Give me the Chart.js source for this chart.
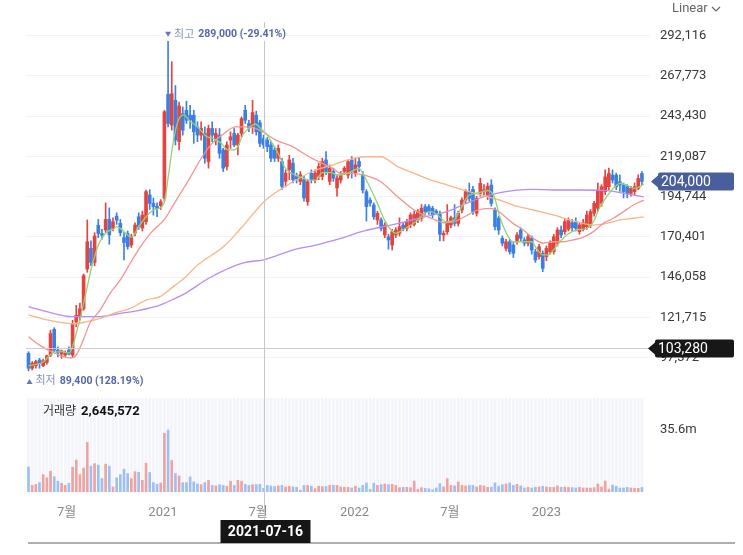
<!DOCTYPE html>
<html lang="ko">
<head>
<meta charset="utf-8">
<script src="https://cdn.jsdelivr.net/npm/chart.js@4.4.0/dist/chart.umd.min.js"></script>
<style>
  html, body { margin: 0; padding: 0; background: #fff; }
  #wrap { position: relative; width: 743px; height: 555px; }
</style>
</head>
<body>
<div id="wrap"><canvas id="chart" width="743" height="555"></canvas></div>
<script>
// weekly candles, index 0 = first visible week
const openP = [100000,91000,92500,96000,92500,94500,99000,114500,102000,99500,
  99000,102000,99000,119000,122000,127000,151000,163500,155000,177500,
  172500,174600,181000,175600,183000,178600,170000,172600,165500,172700,
  182600,175800,179600,195800,190700,189000,189300,193800,256700,238000,
  253000,228000,245000,247000,244000,244000,237000,232000,233000,216000,
  236000,229000,232000,223000,213000,229000,233000,226000,233000,247000,
  239000,237000,244000,239500,230000,229000,226000,223000,218000,216000,
  204000,211000,215000,207000,204000,205000,191700,209000,205000,207000,
  207000,217000,204000,210000,200000,204800,210000,207800,216900,209000,
  216000,208300,197800,192700,189700,180700,180700,171600,170500,165500,
  171600,172600,177600,175600,177600,178000,180700,181700,188700,188700,
  187700,186000,184000,171600,173600,177600,182000,178600,186700,192700,
  197800,199200,184700,196800,198000,194700,201800,186700,181800,169600,
  163500,167500,165500,167500,174600,168600,166600,169700,161500,158500,
  160500,158500,161500,161500,166600,174600,173600,175000,179000,179600,
  173600,175000,176600,177600,184700,187700,190700,197800,200800,207800,
  207800,203800,201800,200800,196800,197800,199800,208800];
const highP = [101000,95000,96000,97000,96500,99000,114000,115500,104000,102000,
  101500,104000,120000,129000,130400,148000,180700,168000,173000,181000,
  175000,191000,188000,182000,185000,181000,173000,174000,172000,179000,
  185000,186000,198800,199000,194000,191000,193000,247000,289000,276400,
  262000,252000,249000,252500,250000,247000,240000,240000,237000,238000,
  240000,236000,236000,224000,228000,234000,236000,233000,243000,250000,
  241000,253000,246500,241000,232000,230500,228000,225000,226000,218000,
  211000,219800,218000,209000,210000,207000,205000,211000,211000,215000,
  218000,222000,214000,212000,208000,210000,213000,217000,219000,218000,
  218000,210000,199000,194000,191000,186000,182000,179000,172000,175000,
  176000,182000,179000,181000,185000,186000,187000,190000,190000,190000,
  189000,187000,186000,174000,190000,183000,190000,186000,194000,199000,
  203000,201000,195000,206000,202000,203000,205000,188000,183000,171000,
  169000,169000,167000,173000,176000,170000,172000,171000,163000,166000,
  162000,165000,168000,172000,176000,177000,181000,182000,181000,182000,
  179000,181000,186000,187000,192000,203000,202000,211000,212000,211000,
  209000,208000,203000,202000,201000,203000,208000,210000];
const lowP = [89400,90000,91000,91000,92000,93500,98000,101000,98000,97000,
  98000,99000,98000,116000,120000,126000,149000,153000,153000,170000,
  169000,173000,166000,174000,178000,171000,156500,163000,164000,171000,
  175000,174000,178000,187000,183600,182600,187000,192000,237000,235000,
  226000,223000,232000,239000,236000,227000,228000,229000,215000,212000,
  228000,226000,218000,210000,211000,224000,225000,220000,231000,239000,
  234000,233000,232000,225000,224000,222000,216000,216000,216000,199000,
  201000,205000,203000,203000,202000,192000,189500,203000,203000,205000,
  205000,208000,202000,204000,195000,203000,208000,206000,206000,207000,
  210000,197000,180000,189000,181000,178000,174000,170000,163000,162500,
  170000,171000,174000,174000,176000,177000,179000,180000,184000,184000,
  182000,184000,168000,168000,172000,176000,177000,177000,185000,191000,
  192000,184000,183000,195000,196000,193000,189000,174600,172000,165000,
  162000,160000,158000,166000,168000,165000,165000,160000,155000,157000,
  149400,156000,160000,160000,165000,170000,172000,174000,174000,174000,
  172000,174000,175000,176000,183000,186000,189000,196000,199000,203000,
  199000,198000,194000,194000,195000,196000,199000,202000];
const closeP = [91000,94000,95000,94000,95500,98500,112000,102000,100500,101500,
  100500,99500,118000,123000,127000,147000,167500,155000,171000,172500,
  171500,181000,171600,179600,180500,173000,167000,164500,170500,177600,
  176600,183700,197800,190700,188700,187500,191700,246100,239000,257000,
  229000,249600,235000,241000,241000,234000,232000,236000,218000,236000,
  232000,233000,221000,212000,226000,231000,226000,232000,242000,241000,
  236300,245600,234000,227000,226000,225000,218000,218000,224000,201000,
  209000,217000,205000,205500,208000,194000,203800,205000,209000,213000,
  216000,210000,212000,206000,206000,207800,212000,215900,209900,214000,
  213000,198800,188700,190900,182600,184700,175600,177600,168600,173600,
  174600,176600,175600,179600,183700,184000,185700,187700,185700,185700,
  183700,185000,172000,172600,179600,182000,178600,184700,192700,197800,
  193800,185700,193800,202800,199000,201000,190700,176600,174600,166600,
  167500,161500,160500,171600,169600,166600,170600,162500,156500,164500,
  151400,163500,166600,170500,174600,171600,179600,180700,176000,175600,
  177600,179000,183700,185700,190700,198800,200800,206800,208800,204800,
  200800,201800,197800,196800,199800,200800,205800,204000];
const volume = [14400000,3800000,4400000,5400000,10000000,8100000,11900000,8800000,6200000,5000000,
  3800000,5000000,14200000,18300000,10000000,13700000,28500000,14800000,16300000,15400000,
  7700000,16000000,14800000,2900000,8100000,10000000,13100000,10600000,7700000,11700000,
  11300000,6700000,16500000,11200000,5400000,4400000,5200000,33700000,35600000,18100000,
  10600000,9200000,5400000,5400000,8700000,5800000,4600000,4200000,5400000,6700000,
  3800000,3500000,4200000,3800000,3300000,6200000,3800000,6700000,6200000,4400000,
  3800000,4200000,4200000,4400000,2100000,3800000,3500000,3100000,3500000,3800000,
  2900000,3300000,2900000,2700000,1000000,3800000,3800000,3300000,1900000,3300000,
  3100000,3100000,3800000,3800000,3800000,2900000,2700000,2700000,2300000,3300000,
  2300000,3800000,5200000,1500000,5000000,3800000,4200000,4600000,4200000,4400000,
  3800000,2500000,2700000,2700000,2500000,6300000,1500000,2500000,2100000,1900000,
  1300000,2300000,4800000,2900000,7700000,3800000,3500000,5800000,3800000,3500000,
  3800000,3800000,2900000,3800000,3500000,2700000,2700000,5200000,3300000,4200000,
  4600000,5200000,3800000,4400000,3500000,2300000,2700000,2300000,2700000,2900000,
  3300000,2900000,2700000,2700000,3500000,2700000,2900000,2700000,2500000,2300000,
  2700000,2300000,2300000,2300000,2500000,4600000,2900000,6300000,1700000,4000000,
  3300000,2300000,2300000,2700000,2300000,2100000,2100000,2645572];

// moving averages as [week index, price]
const ma5 = [[0,92400],[4,94800],[7,100800],[9,101000],[11,100200],[12,104000],[13,112300],[14,120200],
  [15,130400],[16,140300],[17,150400],[18,158500],[19,165500],[20,169600],[21,172600],[22,174200],
  [23,175000],[24,176600],[25,175600],[26,173600],[27,171600],[28,170200],[30,176600],[32,182600],
  [34,186700],[35.5,187700],[37,191700],[38.3,210900],[39.5,229000],[40.8,241100],[42.3,244200],
  [43.7,241000],[46,237000],[48.6,231000],[50.3,230000],[52.5,227000],[54.3,223000],[56.2,223000],
  [58.6,233000],[60.5,237000],[61.8,238700],[63.2,236000],[65,232000],[66.4,227000],[68.2,220000],
  [69.6,213000],[70.9,209900],[72.7,207800],[74.6,205900],[76.4,204800],[78.2,204800],[80,209300],
  [82.3,209300],[84.1,207800],[86.4,208500],[88,210000],[90,211900],[91,208900],[93.3,198800],
  [95,190700],[96.9,180700],[98.7,174600],[100,172600],[101.9,174600],[104.1,177600],[106,180700],
  [107.8,184700],[109.6,185700],[111.4,183700],[113.7,179500],[116,181000],[117.8,188000],
  [119.6,195000],[122.3,197000],[125,198500],[126.8,194700],[128.3,182600],[130.1,172600],
  [131.9,167500],[134.7,167500],[137,167500],[138.3,163500],[140.1,159500],[141.5,159500],
  [142.9,162500],[144.7,167500],[146.5,171600],[149.2,174600],[152,175600],[153.8,179600],
  [155.6,188700],[157.4,194700],[159.2,199800],[161.1,202800],[162.9,201800],[164.7,199800],
  [166.5,200800],[167.5,202500]];
const ma20 = [[0,110000],[3,105000],[7,100200],[9.5,98000],[11.5,97200],[13,99000],[14.9,108000],
  [16.7,118200],[19.5,126200],[22.2,136300],[25,144400],[27.7,154500],[30.5,164500],[33.2,172600],
  [35,176600],[37,181000],[39.5,190000],[42,199000],[43.6,204800],[47.3,218900],[50,227000],
  [52.7,232000],[56.4,237000],[60,237000],[63.7,234100],[67.3,229000],[71.9,225000],[76.4,218900],
  [80,214900],[82.8,211900],[85,208900],[87.7,208900],[91.4,207800],[95.9,203800],[100.5,194700],
  [105,186700],[109.6,181700],[113.2,179000],[116,179600],[118.7,182600],[122.3,186700],
  [125.6,187700],[127.4,186700],[129.2,183700],[131.9,178600],[134.7,174600],[137.4,169600],
  [140.1,166600],[142.9,167500],[145.6,167500],[148.3,168600],[151,170200],[153.8,173600],
  [156.5,178600],[159.2,181700],[162,185700],[164.7,189700],[167.5,192700]];
const ma60 = [[0,123200],[5,120200],[9.5,118500],[12,117800],[15.9,119200],[19.5,121200],[23.2,124200],
  [27.7,127200],[32.2,132300],[35.8,134300],[39.5,140500],[42.7,146000],[45.5,152400],[53.6,165500],
  [58.2,176600],[64.6,192700],[69.1,199800],[73.7,205900],[78.2,210900],[82.8,213900],[86.8,216900],
  [91.4,218900],[95.9,218900],[100.5,212900],[105,208900],[109.6,204800],[114.1,201800],
  [118.7,198500],[123.2,195800],[128.3,192700],[131.9,189700],[137.4,186700],[142.9,183700],
  [147.4,180700],[151,178600],[153.8,177600],[157.4,178600],[161.1,180700],[164.7,181700],[167.5,182600]];
const ma120 = [[0,128200],[5,125200],[12,122200],[19.5,122200],[25,124200],[30.5,126200],[35.8,129200],
  [40,133300],[42.7,136300],[49.1,145400],[58.2,154500],[64.6,156900],[71.9,162500],[78.2,165500],
  [85,169600],[91.4,174000],[100.5,178500],[109.6,183500],[113.7,185500],[119,190500],[124.7,195200],
  [131.9,198400],[137.4,199200],[142.9,198800],[150.1,198800],[157.4,198400],[162,196800],[167.5,194700]];

const priceTicks = [97372,121715,146058,170401,194744,219087,243430,267773,292116];
const volTicks = [35600000];
const xTickPos = [10.4,36.6,62.5,88.75,114.7,141.0];
const xTickText = ['7월','2021','7월','2022','7월','2023'];

const highIdx = 38, highPrice = 289000, highPct = '-29.41%';
const lowIdx = 0, lowPrice = 89400, lowPct = '128.19%';
const lastPrice = 204000;
const crossIdx = 64, crossPrice = 103280, crossDate = '2021-07-16';
const lastVolume = 2645572;

const P_MIN = 74209, P_MAX = 300396, VOL_MAX = 55100000;
const UP = '#e4443f', DOWN = '#3c7fe2';
const VOL_UP = '#efa2a2', VOL_DOWN = '#9dbff2';
const FONT = "Roboto, 'Noto Sans CJK KR', sans-serif";

Chart.defaults.font.family = FONT;

const idx = openP.map((_, i) => i);
const up = idx.map(i => closeP[i] >= openP[i]);
const toPts = arr => arr.map(p => ({ x: p[0], y: p[1] }));
const fmt = v => v.toLocaleString('en-US');

function priceTag(ctx, xTip, yc, color, text) {
  const h = 18, left = xTip + 7, right = 734;
  ctx.fillStyle = color;
  ctx.beginPath();
  ctx.moveTo(xTip, yc);
  ctx.lineTo(left, yc - 6);
  ctx.lineTo(left, yc - h / 2 + 2);
  ctx.quadraticCurveTo(left, yc - h / 2, left + 2, yc - h / 2);
  ctx.lineTo(right - 2, yc - h / 2);
  ctx.quadraticCurveTo(right, yc - h / 2, right, yc - h / 2 + 2);
  ctx.lineTo(right, yc + h / 2 - 2);
  ctx.quadraticCurveTo(right, yc + h / 2, right - 2, yc + h / 2);
  ctx.lineTo(left + 2, yc + h / 2);
  ctx.quadraticCurveTo(left, yc + h / 2, left, yc + h / 2 - 2);
  ctx.lineTo(left, yc + 6);
  ctx.closePath();
  ctx.fill();
  ctx.fillStyle = '#fff';
  ctx.font = '14px ' + FONT;
  ctx.textAlign = 'left';
  ctx.textBaseline = 'middle';
  ctx.fillText(text, left + 3, yc + 1);
}

function markLabel(ctx, xm, ym, pointDown, word, value, pct) {
  ctx.fillStyle = '#6676b8';
  ctx.beginPath();
  if (pointDown) {
    ctx.moveTo(xm - 3, ym - 3); ctx.lineTo(xm + 3, ym - 3); ctx.lineTo(xm, ym + 2);
  } else {
    ctx.moveTo(xm - 3, ym + 3); ctx.lineTo(xm + 3, ym + 3); ctx.lineTo(xm, ym - 2);
  }
  ctx.closePath();
  ctx.fill();
  ctx.textAlign = 'left';
  ctx.textBaseline = 'middle';
  ctx.font = '11px ' + FONT;
  ctx.fillStyle = '#8893bf';
  ctx.fillText(word, xm + 6, ym);
  const w = ctx.measureText(word).width;
  ctx.font = 'bold 10.5px ' + FONT;
  ctx.fillStyle = '#5668aa';
  ctx.fillText(fmt(value) + ' (' + pct + ')', xm + 6 + w + 4, ym);
}

const overlay = {
  id: 'overlay',
  beforeDatasetsDraw(chart) {
    const { ctx } = chart;
    const x = chart.scales.x, yv = chart.scales.yv;
    const step = x.getPixelForValue(1) - x.getPixelForValue(0);
    ctx.save();
    ctx.fillStyle = '#f3f5fa';
    idx.forEach(i => {
      const c = x.getPixelForValue(i);
      ctx.fillRect(c - step / 2 + 0.45, yv.top + 2, step - 0.9, yv.bottom - yv.top - 2);
    });
    ctx.restore();
  },
  afterDraw(chart) {
    const { ctx, chartArea } = chart;
    const x = chart.scales.x, y = chart.scales.y;
    ctx.save();

    // crosshair
    const cx = Math.round(x.getPixelForValue(crossIdx)) + 0.5;
    const cy = Math.round(y.getPixelForValue(crossPrice)) + 0.5;
    ctx.lineWidth = 1;
    ctx.strokeStyle = '#c2c6ce';
    ctx.beginPath(); ctx.moveTo(cx, chartArea.top); ctx.lineTo(cx, 520); ctx.stroke();
    ctx.strokeStyle = '#c9ccd6';
    ctx.beginPath(); ctx.moveTo(chartArea.left, cy); ctx.lineTo(chartArea.right, cy); ctx.stroke();

    // bottom rule and date tag
    ctx.fillStyle = '#aeaeae';
    ctx.fillRect(28, 542, 707, 2);
    ctx.fillStyle = '#161616';
    ctx.fillRect(cx - 44, 520, 90, 23);
    ctx.fillStyle = '#fff';
    ctx.font = 'bold 14px ' + FONT;
    ctx.textAlign = 'center';
    ctx.textBaseline = 'middle';
    ctx.fillText(crossDate, cx + 1, 532);

    // price tags
    priceTag(ctx, chartArea.right + 1, y.getPixelForValue(lastPrice), '#4a5e9b', fmt(lastPrice));
    priceTag(ctx, chartArea.right - 2, cy, '#171717', fmt(crossPrice));

    // high / low marks
    const hx = x.getPixelForValue(highIdx), hy = y.getPixelForValue(highPrice) - 6;
    ctx.fillStyle = '#fff';
    ctx.fillRect(hx - 4, hy - 7, 122, 13);
    markLabel(ctx, hx, hy, true, '최고', highPrice, highPct);
    const lx = x.getPixelForValue(lowIdx) + 1, ly = y.getPixelForValue(lowPrice) + 10;
    markLabel(ctx, lx, ly, false, '최저', lowPrice, lowPct);

    // volume caption
    ctx.textAlign = 'left';
    ctx.textBaseline = 'middle';
    ctx.font = '12px ' + FONT;
    ctx.fillStyle = '#333';
    ctx.fillText('거래량', 43, 412);
    const vw = ctx.measureText('거래량').width;
    ctx.font = 'bold 13px ' + FONT;
    ctx.fillStyle = '#111';
    ctx.fillText(fmt(lastVolume), 43 + vw + 5, 412);

    // scale switch
    ctx.font = '13px ' + FONT;
    ctx.fillStyle = '#666';
    ctx.fillText('Linear', 672, 9);
    ctx.strokeStyle = '#666';
    ctx.lineWidth = 1.2;
    ctx.beginPath(); ctx.moveTo(712, 7); ctx.lineTo(716, 11); ctx.lineTo(720, 7); ctx.stroke();

    ctx.restore();
  }
};

const lineDs = (label, pts, color) => ({
  type: 'line', label, data: toPts(pts), yAxisID: 'y',
  borderColor: color, borderWidth: 1.3, pointRadius: 0,
  cubicInterpolationMode: 'monotone', order: 1
});

new Chart(document.getElementById('chart'), {
  type: 'bar',
  data: {
    datasets: [
      lineDs('MA5', ma5, '#92d472'),
      lineDs('MA20', ma20, '#f29591'),
      lineDs('MA60', ma60, '#f7b589'),
      lineDs('MA120', ma120, '#b68cf6'),
      {
        label: 'body', yAxisID: 'y', order: 5, grouped: false,
        data: idx.map(i => ({ x: i, y: [openP[i], closeP[i]] })),
        backgroundColor: idx.map(i => up[i] ? UP : DOWN),
        barThickness: 3, minBarLength: 1
      },
      {
        label: 'wick', yAxisID: 'y', order: 6, grouped: false,
        data: idx.map(i => ({ x: i, y: [lowP[i], highP[i]] })),
        backgroundColor: idx.map(i => up[i] ? UP : DOWN),
        barThickness: 1
      },
      {
        label: 'volume', yAxisID: 'yv', order: 7, grouped: false,
        data: idx.map(i => ({ x: i, y: volume[i] })),
        backgroundColor: idx.map(i => up[i] ? VOL_UP : VOL_DOWN),
        barThickness: 2
      }
    ]
  },
  options: {
    responsive: false,
    maintainAspectRatio: false,
    animation: false,
    events: [],
    layout: { padding: { left: 26, top: 22, right: 0, bottom: 0 } },
    plugins: { legend: { display: false }, tooltip: { enabled: false } },
    scales: {
      x: {
        type: 'linear', min: -0.68, max: 169.2, offset: false,
        grid: { display: false }, border: { display: false },
        afterBuildTicks: s => { s.ticks = xTickPos.map(v => ({ value: v })); },
        afterFit: s => { s.height = 63; },
        ticks: {
          autoSkip: false, maxRotation: 0, padding: 5, color: '#888',
          font: { size: 13 },
          callback: (v, i) => xTickText[i]
        }
      },
      y: {
        position: 'right', stack: 'main', stackWeight: 374,
        min: P_MIN, max: P_MAX,
        grid: { color: '#f1f2f5', drawTicks: false }, border: { display: false },
        afterBuildTicks: s => { s.ticks = priceTicks.map(v => ({ value: v })); },
        afterFit: s => { s.width = 93; },
        ticks: { padding: 10, color: '#383838', font: { size: 13 }, callback: v => fmt(v) }
      },
      yv: {
        position: 'right', stack: 'main', stackWeight: 96,
        min: 0, max: VOL_MAX,
        grid: { display: false, drawTicks: false }, border: { display: false },
        afterBuildTicks: s => { s.ticks = volTicks.map(v => ({ value: v })); },
        afterFit: s => { s.width = 93; },
        ticks: { padding: 10, color: '#383838', font: { size: 13 }, callback: v => (v / 1e6).toFixed(1) + 'm' }
      }
    }
  },
  plugins: [overlay]
});
</script>
</body>
</html>
